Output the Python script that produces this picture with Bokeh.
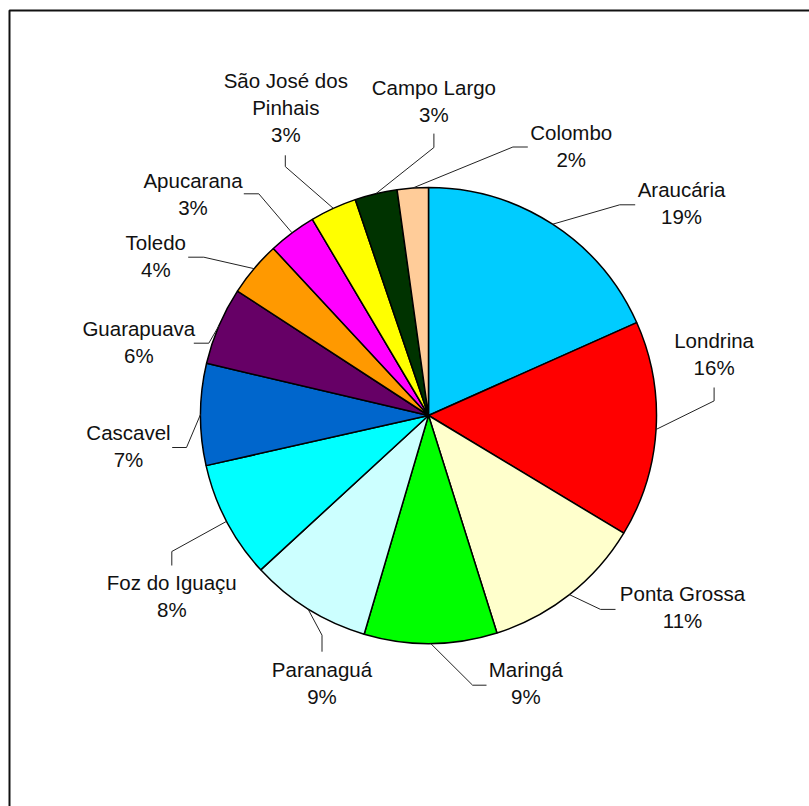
import math
from bokeh.plotting import figure
from bokeh.models import Range1d
from bokeh.core.properties import value
from bokeh.embed import file_html
from bokeh.resources import INLINE

# ---------------- data ----------------
cities = ["Araucária", "Londrina", "Ponta Grossa", "Maringá", "Paranaguá",
          "Foz do Iguaçu", "Cascavel", "Guarapuava", "Toledo", "Apucarana",
          "São José dos\nPinhais", "Campo Largo", "Colombo"]
shares = [18.3, 15.3, 11.5, 9.4, 8.6, 8.3, 7.2, 5.5, 3.9, 3.4, 3.3, 3.0, 2.2]
pct_labels = ["19%", "16%", "11%", "9%", "9%", "8%", "7%", "6%", "4%", "3%",
              "3%", "3%", "2%"]
colors = ["#00CCFF", "#FF0000", "#FFFFCC", "#00FF00", "#CCFFFF", "#00FFFF",
          "#0066CC", "#660066", "#FF9900", "#FF00FF", "#FFFF00", "#003300",
          "#FFCC99"]

# ---------------- layout (pixel coordinates) ----------------
W, H = 809, 806
CX, CY, R = 428.0, 415.0, 228.0
label_pos = [(681, 189), (713.6, 340), (682, 593.4), (525.3, 668.7),
             (321.5, 668.7), (171.3, 582), (128, 432.4), (138.3, 328.2),
             (155.3, 241.5), (192.5, 179.6), (285.3, 80), (433.4, 86.7),
             (570.7, 131.6)]
leader_start = [(634.7, 204.3), (713.6, 387), (615, 608.9), (486, 684.7),
                (321.5, 651.2), (171.3, 565), (171.7, 447), (193.3, 342.7),
                (187.7, 256.7), (243.3, 193.3), (284.8, 154.8), (433.4, 133.1),
                (527.3, 146.5)]
leader_elbow = [(619.2, 204.3), (713.6, 400.4), (600, 608.9), (472.1, 684.7),
                (321.5, 634.7), (171.3, 551), (186, 447), (208.3, 342.7),
                (203.3, 256.7), (258.3, 193.3), (284.8, 166.1), (433.4, 147),
                (512.4, 146.5)]
LINE_H = 27
FONT = value("Liberation Sans")

p = figure(width=W, height=H, output_backend="svg", toolbar_location=None,
           x_range=Range1d(0, W), y_range=Range1d(-H, 0),
           min_border=0)
p.axis.visible = False
p.grid.visible = False
p.outline_line_color = None
p.background_fill_color = "white"
p.border_fill_color = "white"

# frame (extends beyond the visible page on right/bottom)
p.line(x=[9, 9, 900], y=[-900, -10, -10], line_color="#111111", line_width=2)

total = sum(shares)
cum = 0.0
starts, ends, mids = [], [], []
for s in shares:
    a0 = cum / total * 2 * math.pi
    cum += s
    a1 = cum / total * 2 * math.pi
    # clockwise from top -> math angles
    starts.append(math.pi / 2 - a1)
    ends.append(math.pi / 2 - a0)
    mids.append((a0 + a1) / 2)

p.wedge(x=CX, y=-CY, radius=R, start_angle=starts, end_angle=ends,
        fill_color=colors, line_color="black", line_width=1.5)

# leader lines
for i in range(len(cities)):
    m = mids[i]
    px = CX + R * math.sin(m)
    py = CY - R * math.cos(m)
    xs = [leader_start[i][0], leader_elbow[i][0], px]
    ys = [-leader_start[i][1], -leader_elbow[i][1], -py]
    p.line(x=xs, y=ys, line_color="#222222", line_width=1)

# labels
tx, ty, tt = [], [], []
for i, name in enumerate(cities):
    lines = name.split("\n") + [pct_labels[i]]
    x0, y0 = label_pos[i]
    for k, ln in enumerate(lines):
        tx.append(x0)
        ty.append(-(y0 + k * LINE_H))
        tt.append(ln)
p.text(x=tx, y=ty, text=tt, text_align="center", text_baseline="middle",
       text_font=FONT, text_font_size="20.5px", text_color="#111111")

open("out.html", "w").write(file_html(p, INLINE))
